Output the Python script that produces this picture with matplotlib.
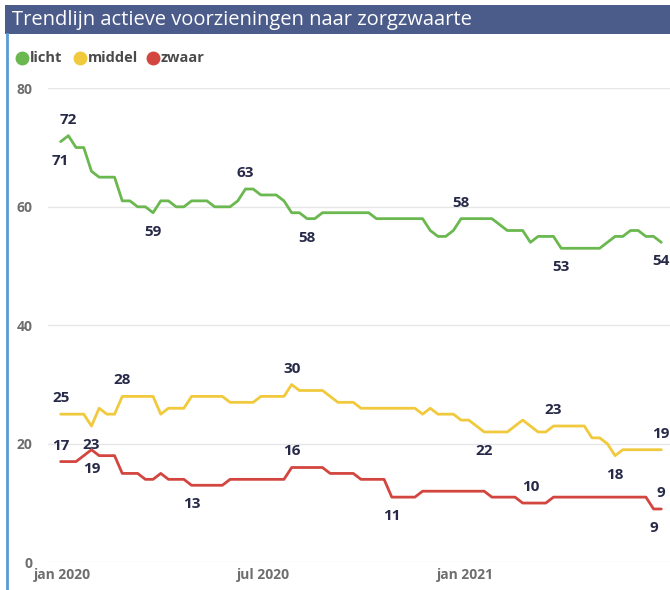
import matplotlib
matplotlib.use('Agg')
import matplotlib.pyplot as plt
import matplotlib.dates as mdates
import pandas as pd
from matplotlib.patches import Rectangle
from matplotlib.lines import Line2D

# ---------------- data ----------------
weeks = pd.date_range('2019-12-30', periods=79, freq='7D')

licht = [71, 72, 70, 70, 66, 65, 65, 65, 61, 61,
         60, 60, 59, 61, 61, 60, 60, 61, 61, 61,
         60, 60, 60, 61, 63, 63, 62, 62, 62, 61,
         59, 59, 58, 58, 59, 59, 59, 59, 59, 59,
         59, 58, 58, 58, 58, 58, 58, 58, 56, 55,
         55, 56, 58, 58, 58, 58, 58, 57, 56, 56,
         56, 54, 55, 55, 55, 53, 53, 53, 53, 53,
         53, 54, 55, 55, 56, 56, 55, 55, 54]

middel = [25, 25, 25, 25, 23, 26, 25, 25, 28, 28,
          28, 28, 28, 25, 26, 26, 26, 28, 28, 28,
          28, 28, 27, 27, 27, 27, 28, 28, 28, 28,
          30, 29, 29, 29, 29, 28, 27, 27, 27, 26,
          26, 26, 26, 26, 26, 26, 26, 25, 26, 25,
          25, 25, 24, 24, 23, 22, 22, 22, 22, 23,
          24, 23, 22, 22, 23, 23, 23, 23, 23, 21,
          21, 20, 18, 19, 19, 19, 19, 19, 19]

zwaar = [17, 17, 17, 18, 19, 18, 18, 18, 15, 15,
         15, 14, 14, 15, 14, 14, 14, 13, 13, 13,
         13, 13, 14, 14, 14, 14, 14, 14, 14, 14,
         16, 16, 16, 16, 16, 15, 15, 15, 15, 14,
         14, 14, 14, 11, 11, 11, 11, 12, 12, 12,
         12, 12, 12, 12, 12, 12, 11, 11, 11, 11,
         10, 10, 10, 10, 11, 11, 11, 11, 11, 11,
         11, 11, 11, 11, 11, 11, 11, 9, 9]

series_names = ['licht', 'middel', 'zwaar']
series_colors = ['#6ab84f', '#f0c93c', '#d2463f']

# data labels: (index, position)
labels_licht = [(0, 'below'), (1, 'above'), (12, 'below'), (24, 'above'),
                (32, 'below'), (52, 'above'), (65, 'below'), (78, 'below')]
labels_middel = [(0, 'above'), (4, 'below'), (8, 'above'), (30, 'above'),
                 (55, 'below'), (64, 'above'), (72, 'below'), (78, 'above')]
labels_zwaar = [(0, 'above'), (4, 'below'), (17, 'below'), (30, 'above'),
                (43, 'below'), (61, 'above'), (77, 'below'), (78, 'above')]

x_tick_dates = ['2020-01-01', '2020-07-01', '2021-01-01']
x_tick_labels = ['jan 2020', 'jul 2020', 'jan 2021']
y_ticks = [0, 20, 40, 60, 80]

title = 'Trendlijn actieve voorzieningen naar zorgzwaarte'

# ---------------- figure ----------------
W, H = 670, 590
fig = plt.figure(figsize=(W / 100, H / 100), dpi=100)
FONT = ['Open Sans', 'DejaVu Sans']
plt.rcParams['font.family'] = FONT

ax_left, ax_right, ax_bottom, ax_top = 48, 670, 562.3, 88.3
ax = fig.add_axes([ax_left / W, 1 - ax_bottom / H,
                   (ax_right - ax_left) / W, (ax_bottom - ax_top) / H])

x0 = mdates.date2num(weeks[0])
ax.set_xlim(x0 - 11.5, x0 + 79.13 * 7)
ax.set_ylim(0, 80)

all_series = [licht, middel, zwaar]
all_labels = [labels_licht, labels_middel, labels_zwaar]
label_color = '#262a48'
for vals, col, labs in zip(all_series, series_colors, all_labels):
    ax.plot(weeks, vals, color=col, lw=2.0, solid_joinstyle='round',
            solid_capstyle='round', clip_on=False, zorder=3)
    for idx, pos in labs:
        off = 16 if pos == 'above' else -19
        ax.annotate(str(vals[idx]), (weeks[idx], vals[idx]),
                    xytext=(0, off), textcoords='offset pixels',
                    ha='center', va='center', fontsize=11,
                    fontweight='bold', color=label_color,
                    annotation_clip=False, zorder=4)

ax.set_yticks(y_ticks)
ax.set_yticklabels([str(v) for v in y_ticks])
ax.set_xticks([mdates.date2num(pd.Timestamp(d)) for d in x_tick_dates])
ax.set_xticklabels(x_tick_labels)
ax.tick_params(axis='both', length=0, colors='#6e6e6e', labelsize=10)
ax.tick_params(axis='y', pad=11)
ax.tick_params(axis='x', pad=4)
for lab in ax.get_xticklabels() + ax.get_yticklabels():
    lab.set_fontweight('bold')
ax.grid(axis='y', color='#e6e6e6', lw=1)
ax.set_axisbelow(True)
for s in ax.spines.values():
    s.set_visible(False)

# title bar
fig.add_artist(Rectangle((5 / W, 1 - 34 / H), (W - 5) / W, 29 / H,
                         transform=fig.transFigure, facecolor='#4b5b8a',
                         edgecolor='none'))
fig.text(12 / W, 1 - 20 / H, title, color='white', fontsize=14.5,
         va='center', ha='left')

# left border line
fig.add_artist(Line2D([7 / W, 7 / W], [0, 1 - 34 / H], transform=fig.transFigure,
                      color='#5b9bd5', lw=2))

# legend
leg_y = 58
marker_x = [22, 80, 153]
for name, col, mx in zip(series_names, series_colors, marker_x):
    fig.add_artist(Line2D([mx / W], [1 - leg_y / H], transform=fig.transFigure,
                          marker='o', markersize=9, color=col, lw=0))
    fig.text((mx + 8) / W, 1 - leg_y / H, name, color='#4a4a4a', fontsize=10.5,
             fontweight='bold', va='center', ha='left')

fig.savefig('out.png', dpi=100)
